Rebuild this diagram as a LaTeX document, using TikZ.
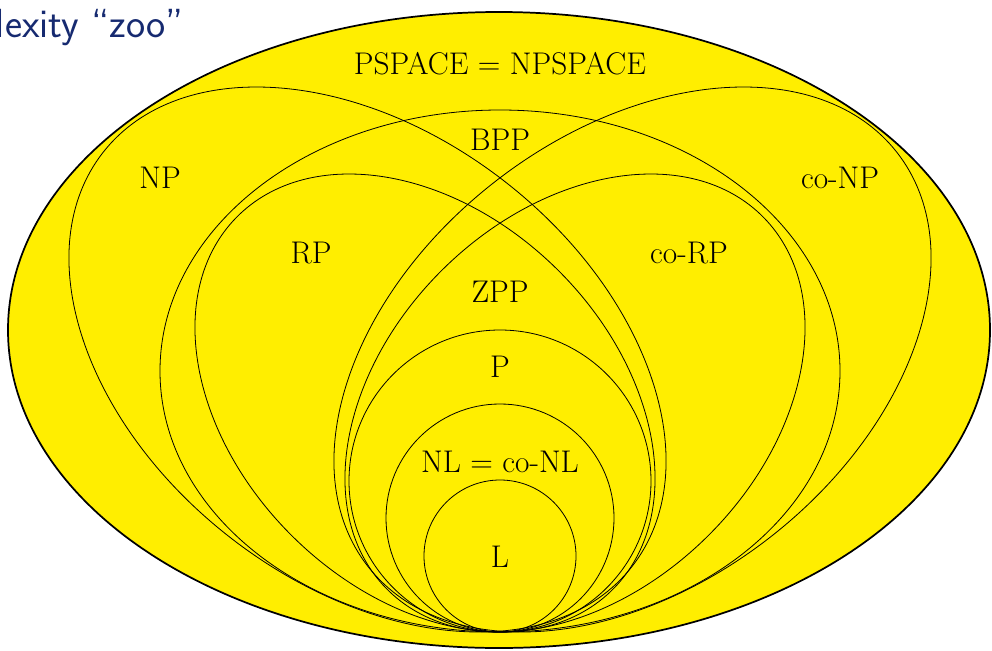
\documentclass[tikz,border=0pt]{standalone}
\usepackage{fontspec}
\definecolor{zooyellow}{RGB}{255,238,0}
\definecolor{titleblue}{RGB}{22,42,112}
\begin{document}
\begin{tikzpicture}[x=0.75pt,y=-0.75pt,
  lbl/.style={font=\fontsize{23.5}{28}\selectfont, inner sep=0pt, anchor=center},
  region/.style={draw=black, line width=0.6pt},
  outer/.style={draw=black, line width=1.3pt, fill=zooyellow}]
\useasboundingbox (0,0) rectangle (992,650);
% title (partly outside the frame, as in the reference)
\node[anchor=base east, inner sep=0pt, text=titleblue,
      font=\sffamily\fontsize{30.5}{36}\selectfont] (title) at (184,37) {Complexity “zoo”};
% PSPACE = NPSPACE
\draw[outer] (499,330) ellipse [x radius=491, y radius=318];
% NP and co-NP
\draw[region, rotate around={-38.1:(367.5,359.5)}] (367.5,359.5) ellipse [x radius=335.9, y radius=224.8];
\draw[region, rotate around={38.1:(632.5,359.5)}] (632.5,359.5) ellipse [x radius=335.9, y radius=224.8];
% BPP
\draw[region] (500,371) ellipse [x radius=340, y radius=261];
% RP and co-RP
\draw[region, rotate around={-44.6:(425,403)}] (425,403) ellipse [x radius=264.6, y radius=188];
\draw[region, rotate around={44.6:(575,403)}] (575,403) ellipse [x radius=264.6, y radius=188];
% P, NL, L
\draw[region] (500,481) circle [radius=151];
\draw[region] (500,518) circle [radius=114];
\draw[region] (500,556) circle [radius=76];
% labels
\node[lbl] (pspace) at (500,64) {PSPACE = NPSPACE};
\node[lbl] (bpp) at (500,140) {BPP};
\node[lbl] (np) at (160,178) {NP};
\node[lbl] (conp) at (840,178) {co-NP};
\node[lbl] (rp) at (311,253) {RP};
\node[lbl] (corp) at (689,253) {co-RP};
\node[lbl] (zpp) at (500,292) {ZPP};
\node[lbl] (p) at (500,367) {P};
\node[lbl] (nl) at (500,462) {NL = co-NL};
\node[lbl] (l) at (500,557) {L};
\end{tikzpicture}
\end{document}
